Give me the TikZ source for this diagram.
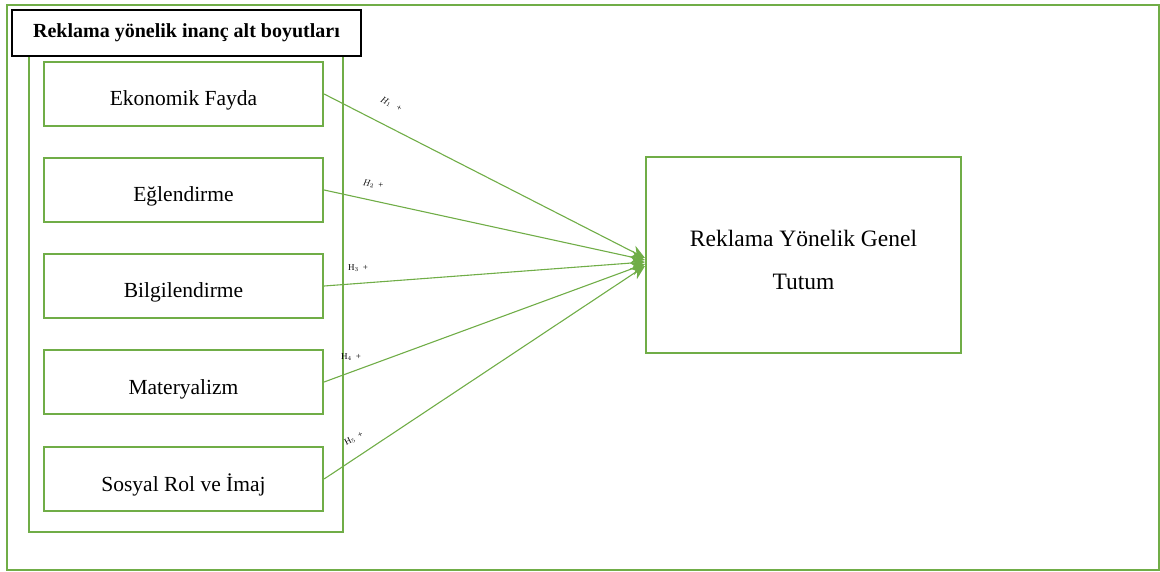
\documentclass[tikz,border=0pt]{standalone}
\usepackage{fontspec}
\setmainfont{Liberation Serif}
\usetikzlibrary{arrows.meta}
\definecolor{gr}{RGB}{112,173,71}
\begin{document}
\begin{tikzpicture}[x=1pt,y=-1pt,
  itembox/.style={draw=gr,line width=2.2pt,minimum width=279pt,minimum height=64pt,inner sep=0pt,text height=24pt,text depth=0pt,font=\fontsize{21.5}{25}\selectfont},
  conn/.style={draw=gr,line width=1.1pt,-{Stealth[length=14pt,width=13pt]}},
  hlab/.style={font=\fontsize{9}{10}\selectfont,inner sep=0pt}]
\useasboundingbox (0,0) rectangle (1160,572);
\draw[gr,line width=1.6pt] (7,5) rectangle (1159,570);
\draw[gr,line width=2.6pt] (29,56) rectangle (343,532);
\node[draw=black,fill=white,line width=1.6pt,minimum width=349pt,minimum height=46pt,inner sep=0pt,font=\fontsize{20}{24}\selectfont\bfseries] (title) at (186.5,33) {Reklama yönelik inanç alt boyutları};
\node[itembox] (e1) at (183.5,94) {Ekonomik Fayda};
\node[itembox] (e2) at (183.5,190) {Eğlendirme};
\node[itembox] (e3) at (183.5,286) {Bilgilendirme};
\node[itembox] (e4) at (183.5,382) {Materyalizm};
\node[itembox] (e5) at (183.5,479) {Sosyal Rol ve İmaj};
\node[draw=gr,line width=1.8pt,minimum width=315pt,minimum height=196pt,inner sep=0pt,
  label={[name=goaltext,align=center,yshift=-5pt,font=\fontsize{23.5}{43}\selectfont]center:Reklama Yönelik Genel\\Tutum}] (goal) at (803.5,255) {};
\coordinate (t1) at (645,258);
\coordinate (t2) at (645,260);
\coordinate (t3) at (645,262);
\coordinate (t4) at (645,264);
\coordinate (t5) at (645,266);
\draw[conn] (e1.east) -- (t1);
\draw[conn] (e2.east) -- (t2);
\draw[conn] (e3.east) -- (t3);
\draw[conn] (e4.east) -- (t4);
\draw[conn] (e5.east) -- (t5);
\node[hlab,rotate=-27] (h1) at (391,104) {$H_1$\hspace{6pt}+};
\node[hlab,rotate=-8] (h2) at (373,184) {$H_2$\hspace{4pt}+};
\node[hlab] (h3) at (358,268) {H$_3$\hspace{4pt}+};
\node[hlab] (h4) at (351,357) {H$_4$\hspace{4pt}+};
\node[hlab,rotate=28] (h5) at (354,439) {H$_5$\hspace{4pt}+};
\end{tikzpicture}
\end{document}
